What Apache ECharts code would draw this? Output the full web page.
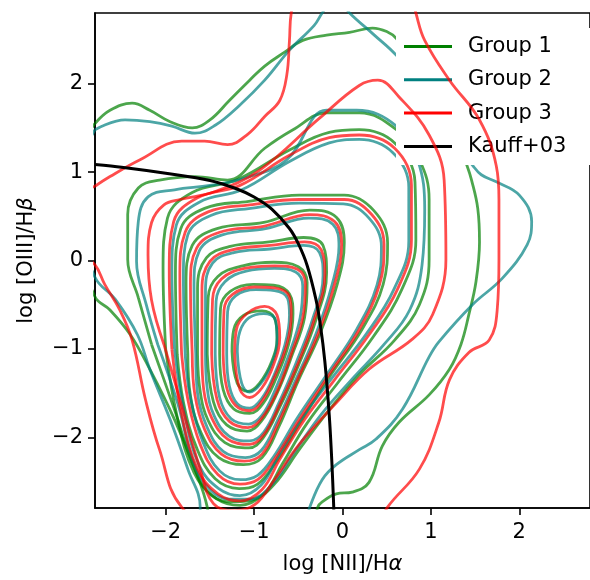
<!DOCTYPE html>
<html>
<head>
<meta charset="utf-8">
<script src="https://cdn.jsdelivr.net/npm/echarts@6/dist/echarts.min.js"></script>
<style>
  html, body { margin: 0; padding: 0; background: #fff; }
  #chart { width: 590px; height: 580px; }
</style>
</head>
<body>
<div id="chart"></div>
<script>
// Density contours of three galaxy groups on the BPT diagram.
// Each contour is a closed loop of [log NII/Ha, log OIII/Hb] points, L1 = outermost.

const groupNames = ['Group 1', 'Group 2', 'Group 3'];
const kauffName = 'Kauff+03';
const tickValues = [-2, -1, 0, 1, 2];

// Group 1 contours
const g1_L1 = [[-2.80,1.55],[-2.63,1.70],[-2.38,1.78],[-2.18,1.70],[-1.95,1.57],[-1.70,1.50],[-1.50,1.59],[-1.28,1.81],[-1.05,2.04],[-0.88,2.20],[-0.65,2.36],[-0.45,2.49],[-0.18,2.55],[0.08,2.58],[0.34,2.63],[0.50,2.59],[0.61,2.51],[0.87,2.15],[1.21,1.59],[1.41,1.07],[1.46,0.91],[1.53,0.59],[1.55,0.21],[1.51,-0.24],[1.43,-0.61],[1.34,-0.95],[1.21,-1.23],[0.98,-1.52],[0.64,-1.83],[0.45,-2.10],[0.30,-2.51],[0.11,-2.62],[-0.07,-2.64],[-0.23,-2.73],[-0.28,-2.79],[-0.37,-3.15],[-1.50,-3.15],[-1.53,-2.79],[-1.67,-2.36],[-1.90,-1.80],[-2.18,-1.23],[-2.40,-0.84],[-2.63,-0.56],[-2.80,-0.41],[-3.19,0.69],[-2.80,1.55]];
const g1_L2 = [[-2.16,-0.95],[-2.31,-0.42],[-2.43,0.01],[-2.43,0.52],[-2.31,0.82],[-2.07,0.91],[-1.67,0.95],[-1.30,0.91],[-0.88,1.27],[-0.56,1.48],[-0.18,1.67],[0.19,1.67],[0.61,1.48],[0.87,1.14],[0.98,0.69],[0.98,0.01],[0.87,-0.50],[0.59,-0.90],[0.19,-1.29],[-0.15,-1.69],[-0.49,-2.14],[-0.77,-2.53],[-0.99,-2.70],[-1.22,-2.73],[-1.48,-2.66],[-1.67,-2.36],[-1.90,-1.69],[-2.16,-0.95]];
const g1_L3 = [[-2.00,-1.01],[-2.03,-0.08],[-1.98,0.48],[-1.70,0.77],[-1.18,0.92],[-0.60,1.25],[-0.15,1.45],[0.19,1.48],[0.59,1.33],[0.82,0.89],[0.83,0.23],[0.67,-0.33],[0.35,-0.86],[-0.05,-1.38],[-0.40,-1.84],[-0.68,-2.30],[-0.89,-2.64],[-1.16,-2.77],[-1.43,-2.69],[-1.68,-2.40],[-1.87,-1.77],[-2.00,-1.01]];
const g1_L4 = [[-1.87,-1.06],[-1.89,-0.14],[-1.83,0.36],[-1.56,0.59],[-1.06,0.67],[-0.49,0.74],[0.02,0.74],[0.35,0.57],[0.51,0.20],[0.46,-0.27],[0.22,-0.78],[-0.13,-1.29],[-0.47,-1.82],[-0.76,-2.29],[-0.96,-2.53],[-1.17,-2.58],[-1.44,-2.47],[-1.65,-2.12],[-1.80,-1.60],[-1.87,-1.06]];
const g1_L5 = [[-1.75,-1.06],[-1.77,-0.26],[-1.70,0.17],[-1.42,0.36],[-0.89,0.43],[-0.37,0.57],[-0.07,0.49],[0.02,0.20],[-0.06,-0.27],[-0.26,-0.84],[-0.50,-1.36],[-0.72,-1.88],[-0.91,-2.23],[-1.12,-2.31],[-1.40,-2.23],[-1.60,-1.95],[-1.72,-1.53],[-1.75,-1.06]];
const g1_L6 = [[-1.64,-1.06],[-1.64,-0.31],[-1.54,0.03],[-1.27,0.16],[-0.83,0.21],[-0.44,0.26],[-0.22,0.17],[-0.18,-0.14],[-0.30,-0.67],[-0.50,-1.19],[-0.71,-1.66],[-0.90,-2.01],[-1.06,-2.12],[-1.33,-2.06],[-1.52,-1.81],[-1.61,-1.48],[-1.64,-1.06]];
const g1_L7 = [[-1.53,-1.06],[-1.52,-0.42],[-1.41,-0.18],[-1.13,-0.06],[-0.78,-0.02],[-0.50,-0.07],[-0.40,-0.25],[-0.43,-0.65],[-0.57,-1.07],[-0.74,-1.50],[-0.92,-1.82],[-1.08,-1.93],[-1.31,-1.86],[-1.46,-1.60],[-1.53,-1.06]];
const g1_L8 = [[-1.39,-1.06],[-1.38,-0.54],[-1.27,-0.35],[-1.01,-0.27],[-0.78,-0.28],[-0.60,-0.38],[-0.56,-0.60],[-0.61,-0.95],[-0.75,-1.33],[-0.90,-1.62],[-1.05,-1.73],[-1.23,-1.68],[-1.35,-1.46],[-1.39,-1.06]];
const g1_L9 = [[-1.25,-1.03],[-1.23,-0.78],[-1.12,-0.62],[-0.91,-0.57],[-0.77,-0.65],[-0.74,-0.87],[-0.80,-1.14],[-0.94,-1.39],[-1.07,-1.48],[-1.19,-1.39],[-1.25,-1.03]];

// Group 2 contours
const g2_L1 = [[-2.80,1.48],[-2.46,1.59],[-2.18,1.57],[-1.93,1.52],[-1.67,1.44],[-1.44,1.53],[-1.16,1.76],[-0.88,2.04],[-0.60,2.38],[-0.32,2.66],[-0.23,2.80],[-0.08,3.00],[0.02,2.89],[0.08,2.80],[0.36,2.55],[0.61,2.32],[0.98,1.87],[1.26,1.36],[1.47,1.08],[1.57,0.97],[1.74,0.89],[2.00,0.74],[2.14,0.44],[2.09,0.18],[1.81,-0.20],[1.47,-0.50],[1.09,-0.92],[0.98,-1.09],[0.68,-1.68],[0.38,-2.02],[0.19,-2.14],[-0.07,-2.31],[-0.23,-2.48],[-0.37,-2.79],[-0.49,-3.15],[-1.61,-3.15],[-1.61,-2.79],[-1.75,-2.36],[-1.95,-1.80],[-2.18,-1.23],[-2.32,-0.84],[-2.57,-0.44],[-2.80,-0.19],[-3.08,0.69],[-2.80,1.48]];
const g2_L2 = [[-2.09,-0.95],[-2.22,-0.50],[-2.33,-0.01],[-2.31,0.44],[-2.20,0.72],[-1.90,0.80],[-1.50,0.85],[-1.11,0.93],[-0.63,1.14],[-0.18,1.70],[0.16,1.70],[0.61,1.52],[0.85,1.14],[0.93,0.57],[0.90,-0.05],[0.76,-0.56],[0.47,-0.95],[0.10,-1.35],[-0.24,-1.74],[-0.56,-2.19],[-0.82,-2.56],[-1.05,-2.70],[-1.28,-2.70],[-1.50,-2.59],[-1.69,-2.27],[-1.86,-1.63],[-2.09,-0.95]];
const g2_L3 = [[-1.90,-1.01],[-1.93,-0.12],[-1.88,0.40],[-1.62,0.66],[-1.14,0.80],[-0.60,1.12],[-0.15,1.33],[0.19,1.37],[0.57,1.22],[0.75,0.83],[0.75,0.22],[0.58,-0.33],[0.27,-0.83],[-0.12,-1.33],[-0.45,-1.77],[-0.72,-2.20],[-0.92,-2.54],[-1.16,-2.66],[-1.40,-2.58],[-1.62,-2.32],[-1.79,-1.72],[-1.90,-1.01]];
const g2_L4 = [[-1.78,-1.06],[-1.80,-0.17],[-1.75,0.29],[-1.49,0.51],[-1.04,0.59],[-0.49,0.65],[0.01,0.64],[0.30,0.48],[0.44,0.16],[0.39,-0.28],[0.16,-0.78],[-0.17,-1.28],[-0.51,-1.78],[-0.78,-2.22],[-0.96,-2.43],[-1.15,-2.48],[-1.39,-2.38],[-1.58,-2.05],[-1.72,-1.56],[-1.78,-1.06]];
const g2_L5 = [[-1.66,-1.06],[-1.68,-0.28],[-1.62,0.11],[-1.36,0.29],[-0.87,0.36],[-0.38,0.48],[-0.11,0.41],[-0.04,0.16],[-0.12,-0.28],[-0.30,-0.83],[-0.52,-1.33],[-0.74,-1.82],[-0.92,-2.15],[-1.10,-2.23],[-1.35,-2.16],[-1.53,-1.89],[-1.64,-1.50],[-1.66,-1.06]];
const g2_L6 = [[-1.55,-1.06],[-1.55,-0.34],[-1.47,-0.03],[-1.23,0.09],[-0.82,0.13],[-0.44,0.17],[-0.26,0.09],[-0.22,-0.17],[-0.34,-0.67],[-0.53,-1.17],[-0.72,-1.61],[-0.89,-1.94],[-1.05,-2.04],[-1.28,-1.99],[-1.45,-1.76],[-1.53,-1.45],[-1.55,-1.06]];
const g2_L7 = [[-1.44,-1.06],[-1.43,-0.46],[-1.33,-0.24],[-1.09,-0.12],[-0.77,-0.09],[-0.53,-0.13],[-0.45,-0.29],[-0.48,-0.65],[-0.60,-1.05],[-0.76,-1.46],[-0.91,-1.75],[-1.06,-1.85],[-1.26,-1.79],[-1.39,-1.55],[-1.44,-1.06]];
const g2_L8 = [[-1.31,-1.06],[-1.30,-0.58],[-1.21,-0.40],[-0.98,-0.33],[-0.77,-0.34],[-0.62,-0.43],[-0.60,-0.62],[-0.65,-0.95],[-0.78,-1.31],[-0.92,-1.57],[-1.05,-1.67],[-1.19,-1.62],[-1.28,-1.42],[-1.31,-1.06]];
const g2_L9 = [[-1.19,-1.03],[-1.16,-0.80],[-1.06,-0.65],[-0.89,-0.60],[-0.76,-0.67],[-0.74,-0.90],[-0.80,-1.17],[-0.93,-1.40],[-1.05,-1.49],[-1.14,-1.39],[-1.19,-1.03]];

// Group 3 contours
const g3_L1 = [[-2.80,0.84],[-2.63,0.95],[-2.29,1.14],[-1.82,1.35],[-1.56,1.35],[-1.30,1.31],[-1.07,1.43],[-0.88,1.63],[-0.71,1.81],[-0.63,2.10],[-0.60,2.49],[-0.58,2.80],[-0.49,3.17],[0.19,3.39],[0.76,3.06],[0.83,2.80],[0.93,2.49],[1.21,2.04],[1.55,1.59],[1.74,1.07],[1.77,0.69],[1.77,0.01],[1.75,-0.56],[1.66,-0.90],[1.43,-1.04],[1.21,-1.35],[1.09,-1.83],[0.87,-2.36],[0.51,-2.79],[0.30,-3.15],[-1.05,-3.38],[-1.82,-2.79],[-2.07,-2.14],[-2.23,-1.57],[-2.38,-0.90],[-2.52,-0.56],[-2.69,-0.27],[-2.80,-0.05],[-3.19,0.35],[-2.97,0.74],[-2.80,0.84]];
const g3_L2 = [[-2.02,-0.95],[-2.16,-0.45],[-2.20,0.06],[-2.16,0.43],[-2.02,0.63],[-1.84,0.69],[-1.44,0.78],[-0.94,1.02],[-0.26,1.61],[0.19,1.98],[0.40,2.04],[0.64,1.85],[0.98,1.42],[1.15,0.91],[1.17,0.01],[1.02,-0.61],[0.79,-0.89],[0.30,-1.23],[-0.07,-1.61],[-0.49,-2.08],[-0.77,-2.48],[-0.99,-2.76],[-1.22,-2.83],[-1.46,-2.75],[-1.61,-2.36],[-1.84,-1.57],[-2.02,-0.95]];
const g3_L3 = [[-1.93,-1.01],[-1.96,-0.10],[-1.91,0.44],[-1.64,0.71],[-1.16,0.85],[-0.60,1.19],[-0.15,1.39],[0.19,1.42],[0.59,1.27],[0.78,0.85],[0.78,0.23],[0.62,-0.33],[0.30,-0.84],[-0.09,-1.35],[-0.43,-1.80],[-0.71,-2.25],[-0.91,-2.59],[-1.16,-2.72],[-1.41,-2.64],[-1.64,-2.36],[-1.82,-1.74],[-1.93,-1.01]];
const g3_L4 = [[-1.82,-1.06],[-1.84,-0.16],[-1.78,0.32],[-1.52,0.55],[-1.05,0.63],[-0.49,0.69],[0.02,0.69],[0.33,0.52],[0.47,0.18],[0.42,-0.27],[0.19,-0.78],[-0.15,-1.29],[-0.49,-1.80],[-0.77,-2.25],[-0.96,-2.48],[-1.16,-2.53],[-1.41,-2.42],[-1.61,-2.08],[-1.75,-1.57],[-1.82,-1.06]];
const g3_L5 = [[-1.70,-1.06],[-1.72,-0.27],[-1.65,0.14],[-1.39,0.32],[-0.88,0.39],[-0.37,0.52],[-0.09,0.44],[-0.01,0.18],[-0.09,-0.27],[-0.28,-0.84],[-0.51,-1.35],[-0.73,-1.85],[-0.91,-2.19],[-1.11,-2.27],[-1.37,-2.19],[-1.56,-1.91],[-1.67,-1.52],[-1.70,-1.06]];
const g3_L6 = [[-1.59,-1.06],[-1.59,-0.33],[-1.50,-0.01],[-1.25,0.12],[-0.82,0.17],[-0.43,0.21],[-0.24,0.12],[-0.20,-0.16],[-0.32,-0.67],[-0.51,-1.18],[-0.71,-1.63],[-0.89,-1.97],[-1.05,-2.08],[-1.30,-2.02],[-1.48,-1.78],[-1.57,-1.46],[-1.59,-1.06]];
const g3_L7 = [[-1.48,-1.06],[-1.47,-0.44],[-1.37,-0.21],[-1.11,-0.09],[-0.77,-0.06],[-0.51,-0.10],[-0.42,-0.27],[-0.45,-0.65],[-0.58,-1.06],[-0.74,-1.48],[-0.91,-1.78],[-1.07,-1.89],[-1.28,-1.82],[-1.42,-1.57],[-1.48,-1.06]];
const g3_L8 = [[-1.35,-1.06],[-1.34,-0.56],[-1.24,-0.38],[-0.99,-0.30],[-0.77,-0.31],[-0.60,-0.41],[-0.58,-0.61],[-0.63,-0.95],[-0.77,-1.32],[-0.91,-1.59],[-1.05,-1.70],[-1.21,-1.64],[-1.31,-1.44],[-1.35,-1.06]];
const g3_L9 = [[-1.22,-1.06],[-1.20,-0.78],[-1.08,-0.60],[-0.88,-0.52],[-0.74,-0.62],[-0.71,-0.87],[-0.78,-1.18],[-0.91,-1.44],[-1.05,-1.55],[-1.16,-1.46],[-1.22,-1.06]];

// Kauffmann et al. (2003) demarcation curve
const kauffX = [-2.80, -2.50, -2.00, -1.50, -1.20, -1.00, -0.80, -0.60, -0.50, -0.40, -0.30, -0.25, -0.20, -0.15, -0.12, -0.10, -0.098];
const kauffY = [1.086, 1.055, 0.987, 0.906, 0.812, 0.719, 0.582, 0.362, 0.190, -0.056, -0.443, -0.733, -1.140, -1.750, -2.288, -2.767, -2.821];

const groups = [
  { name: groupNames[0], color: '#008000', loops: [g1_L1, g1_L2, g1_L3, g1_L4, g1_L5, g1_L6, g1_L7, g1_L8, g1_L9] },
  { name: groupNames[1], color: '#008080', loops: [g2_L1, g2_L2, g2_L3, g2_L4, g2_L5, g2_L6, g2_L7, g2_L8, g2_L9] },
  { name: groupNames[2], color: '#ff0000', loops: [g3_L1, g3_L2, g3_L3, g3_L4, g3_L5, g3_L6, g3_L7, g3_L8, g3_L9] }
];

const series = [];
groups.forEach((g, gi) => {
  g.loops.forEach(loop => {
    series.push({
      type: 'line',
      name: g.name,
      data: loop,
      showSymbol: false,
      symbol: 'none',
      smooth: 0.4,
      clip: true,
      silent: true,
      z: 2 + gi,
      itemStyle: { color: g.color },
      lineStyle: { color: g.color, width: 2.8, opacity: 0.7 }
    });
  });
});
series.push({
  type: 'line',
  name: kauffName,
  data: kauffX.map((x, i) => [x, kauffY[i]]),
  showSymbol: false,
  symbol: 'none',
  smooth: 0.3,
  clip: true,
  silent: true,
  z: 6,
  itemStyle: { color: '#000' },
  lineStyle: { color: '#000', width: 3 }
});

const minusFmt = v => String(v).replace('-', '\u2212');
const font = 'DejaVu Sans';
const fs = 21;

const chart = echarts.init(document.getElementById('chart'), null, { renderer: 'canvas' });
chart.setOption({
  animation: false,
  backgroundColor: '#fff',
  textStyle: { fontFamily: font },
  grid: { left: 95, top: 13, width: 496, height: 495, show: true, borderColor: '#000', borderWidth: 1.6, backgroundColor: 'transparent' },
  legend: {
    data: [groupNames[0], groupNames[1], groupNames[2], kauffName],
    orient: 'vertical',
    left: 396,
    top: 28,
    icon: 'rect',
    itemWidth: 48,
    itemHeight: 3,
    itemGap: 12.3,
    padding: [8, 40, 8, 8],
    backgroundColor: '#fff',
    itemStyle: { opacity: 1 },
    textStyle: { fontFamily: font, fontSize: fs, color: '#000', padding: [0, 0, 0, 11] },
    selectedMode: false
  },
  xAxis: {
    type: 'value',
    min: -2.8,
    max: 2.8,
    name: '{n|log [NII]/H}{g|α}',
    nameLocation: 'middle',
    nameGap: 46,
    nameTextStyle: { rich: { n: { fontFamily: font, fontSize: fs, color: '#000' }, g: { fontFamily: font, fontSize: fs, fontStyle: 'italic', color: '#000' } } },
    splitLine: { show: false },
    axisLine: { show: true, onZero: false, lineStyle: { color: '#000', width: 1.6 } },
    axisTick: { show: true, length: 7, inside: false, lineStyle: { color: '#000', width: 1.6 }, customValues: tickValues },
    axisLabel: { fontFamily: font, fontSize: fs, color: '#000', margin: 14, formatter: minusFmt, customValues: tickValues }
  },
  yAxis: {
    type: 'value',
    min: -2.8,
    max: 2.8,
    name: '{n|log [OIII]/H}{g|β}',
    nameLocation: 'middle',
    nameGap: 58,
    nameRotate: 90,
    nameTextStyle: { rich: { n: { fontFamily: font, fontSize: fs, color: '#000' }, g: { fontFamily: font, fontSize: fs, fontStyle: 'italic', color: '#000' } } },
    splitLine: { show: false },
    axisLine: { show: true, onZero: false, lineStyle: { color: '#000', width: 1.6 } },
    axisTick: { show: true, length: 7, inside: false, lineStyle: { color: '#000', width: 1.6 }, customValues: tickValues },
    axisLabel: { fontFamily: font, fontSize: fs, color: '#000', margin: 12, formatter: minusFmt, customValues: tickValues }
  },
  series: series
});
</script>
</body>
</html>
